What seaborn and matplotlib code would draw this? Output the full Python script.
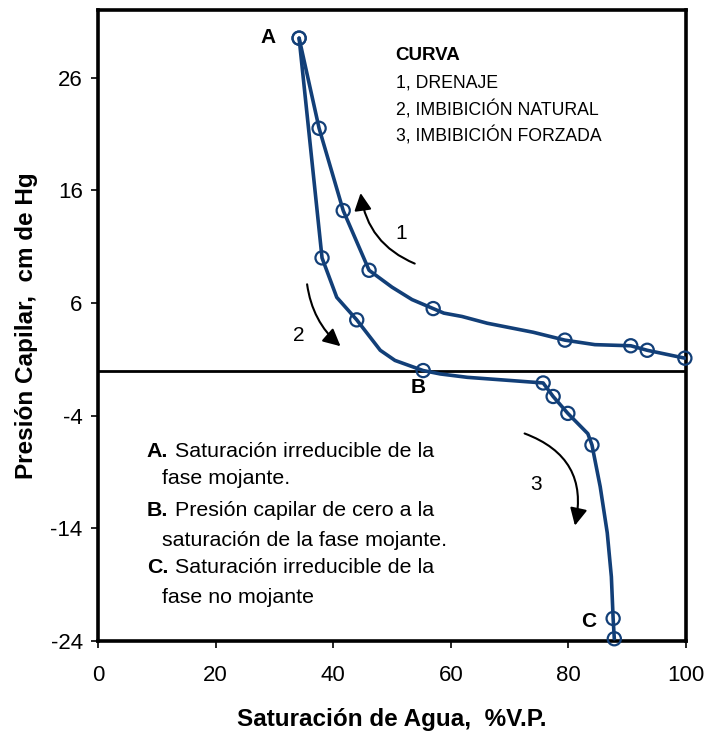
import matplotlib
matplotlib.use("Agg")
import matplotlib.pyplot as plt
import seaborn as sns
import numpy as np
import pandas as pd

# Curve 1: drainage (traced vertices; True = measured point)
dren_sw = [34.2, 37.6, 41.7, 46.1, 50.0, 53.4, 57.0, 58.8, 61.9, 66.2, 74.0, 79.4, 84.5, 90.6, 93.4, 99.8]
dren_pc = [29.5, 21.5, 14.2, 8.9, 7.4, 6.3, 5.5, 5.1, 4.8, 4.2, 3.4, 2.7, 2.3, 2.2, 1.8, 1.1]
dren_meas = [True, True, True, True, False, False, True, False, False, False, False, True, False, True, True, True]

# Curves 2 and 3: natural then forced imbibition
imb_sw = [34.2, 38.1, 40.6, 44.0, 48.0, 50.5, 55.3, 58.2, 62.8, 70.6, 75.7, 77.4, 79.9, 83.3, 84.0, 85.4, 86.6, 87.3, 87.6, 87.8]
imb_pc = [29.5, 10.0, 6.5, 4.5, 1.8, 0.9, 0.0, -0.3, -0.6, -0.9, -1.1, -2.3, -3.8, -5.6, -6.6, -10.3, -14.4, -18.3, -22.0, -23.8]
imb_meas = [True, True, False, True, False, False, True, False, False, False, True, True, True, False, True, False, False, False, True, True]

x_ticks = [0, 20, 40, 60, 80, 100]
y_ticks = [-24, -14, -4, 6, 16, 26]

legend_lines = ["1, DRENAJE", "2, IMBIBICIÓN NATURAL", "3, IMBIBICIÓN FORZADA"]

blue = "#123f78"

sns.set_style("white")
plt.rcParams["font.family"] = ["Liberation Sans", "DejaVu Sans"]
plt.rcParams["text.color"] = "black"
plt.rcParams["axes.labelcolor"] = "black"
plt.rcParams["axes.unicode_minus"] = False

fig = plt.figure(figsize=(7.08, 7.34), dpi=100)
ax = fig.add_axes([0.1384, 0.1267, 0.969 - 0.1384, 0.9864 - 0.1267])

dren = pd.DataFrame({"sw": dren_sw, "pc": dren_pc, "m": dren_meas})
imb = pd.DataFrame({"sw": imb_sw, "pc": imb_pc, "m": imb_meas})

ax.axhline(0, color="black", lw=2.0, zorder=1)

for df in (dren, imb):
    sns.lineplot(data=df, x="sw", y="pc", sort=False, estimator=None,
                 color=blue, lw=2.6, ax=ax, zorder=3)
    pts = df[df["m"]]
    ax.scatter(pts["sw"], pts["pc"], s=90, facecolors="none",
               edgecolors=blue, linewidths=1.6, zorder=4, clip_on=False)

ax.set_xlim(0, 100)
ax.set_ylim(-24, 32)
ax.set_xticks(x_ticks)
ax.set_yticks(y_ticks)
ax.tick_params(axis="both", which="both", direction="out", length=5, width=1.2,
               labelsize=16, colors="black", labelcolor="black",
               left=True, bottom=True, pad=6)
ax.tick_params(axis="x", pad=12)
for side in ["left", "right", "top", "bottom"]:
    ax.spines[side].set_visible(True)
    ax.spines[side].set_color("black")
    ax.spines[side].set_linewidth(2.6)

ax.set_xlabel("Saturación de Agua,  %V.P.", fontsize=17.5, fontweight="bold", labelpad=16)
ax.set_ylabel("Presión Capilar,  cm de Hg", fontsize=17.5, fontweight="bold", labelpad=9)

# point labels
ax.text(28.9, 29.6, "A", fontsize=15, fontweight="bold", ha="center", va="center")
ax.text(54.4, -1.5, "B", fontsize=15, fontweight="bold", ha="center", va="center")
ax.text(83.5, -22.3, "C", fontsize=15, fontweight="bold", ha="center", va="center")

# direction arrows
arrow_kw = dict(arrowstyle="-|>", color="black", lw=1.5, mutation_scale=26)
ax.annotate("", xy=(44.6, 16.0), xytext=(54.3, 9.4),
            arrowprops=dict(connectionstyle="arc3,rad=-0.3", **arrow_kw))
ax.annotate("", xy=(41.6, 2.0), xytext=(35.5, 7.9),
            arrowprops=dict(connectionstyle="arc3,rad=0.2", **arrow_kw))
ax.annotate("", xy=(81.0, -14.0), xytext=(72.1, -5.5),
            arrowprops=dict(connectionstyle="arc3,rad=-0.45", **arrow_kw))
ax.text(51.5, 12.2, "1", fontsize=15, ha="center", va="center")
ax.text(34.2, 3.1, "2", fontsize=15, ha="center", va="center")
ax.text(74.5, -10.1, "3", fontsize=15, ha="center", va="center")

# legend block
ax.text(50.6, 28.0, "CURVA", fontsize=13.5, fontweight="bold", ha="left", va="center")
for i, s in enumerate(legend_lines):
    ax.text(50.6, 25.5 - i * 2.35, s, fontsize=12.7, ha="left", va="center")

# notes
notes = [
    ("A.", "Saturación irreducible de la", "fase mojante.", -7.14, -9.54),
    ("B.", "Presión capilar de cero a la", "saturación de la fase mojante.", -12.46, -15.04),
    ("C.", "Saturación irreducible de la", "fase no mojante", -17.52, -20.1),
]
for lab, l1, l2, ya, yb in notes:
    ax.text(8.3, ya, lab, fontsize=15.4, fontweight="bold", ha="left", va="center")
    ax.text(13.1, ya, l1, fontsize=15.4, ha="left", va="center")
    ax.text(10.9, yb, l2, fontsize=15.4, ha="left", va="center")

fig.savefig("out.png", dpi=100)
